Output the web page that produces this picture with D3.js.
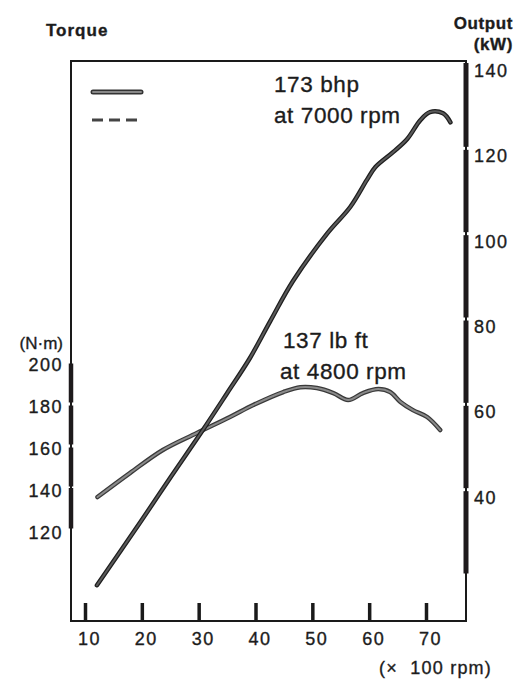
<!DOCTYPE html>
<html>
<head>
<meta charset="utf-8">
<script src="https://cdn.jsdelivr.net/npm/d3@7"></script>
<style>
  body { margin: 0; background: #fff; }
  svg { display: block; font-family: "Liberation Sans", Arial, sans-serif; }
  text { fill: #1c1c1c; stroke: #1c1c1c; stroke-width: 0.35px; }
</style>
</head>
<body>
<svg id="chart" width="529" height="680"></svg>
<script>
// values
const rpmTicks = [10, 20, 30, 40, 50, 60, 70];
const torqueTicks = [120, 140, 160, 180, 200];
const outputTicks = [40, 60, 80, 100, 120, 140];
const outputBar = [20, 40, 60, 80, 100, 120, 140];

const powerRpm = [12.1, 19.9, 25, 30.8, 35, 39, 42.6, 46.6, 52.6, 56.7, 59.6, 61.1, 64.2, 66.7, 69, 70.7, 73, 74.3];
const powerKw  = [17.6, 32.7, 42.8, 54.1, 62.6, 70.8, 79.5, 88.9, 100, 106.3, 112.6, 115.6, 119.1, 122.2, 126.6, 128.5, 128.2, 126.1];

const torqueRpm = [12.2, 17.9, 23.7, 29.7, 35.5, 39.6, 44.9, 47.9, 50.8, 53.7, 56.3, 58.9, 61.6, 63.7, 65.5, 67.7, 70.2, 72.5];
const torqueNm  = [135.7, 147.1, 158.1, 166.2, 173.8, 179.5, 185.7, 188, 187.6, 185.2, 181.9, 185.2, 187.1, 185.7, 181, 177.1, 173.8, 167.6];

const svg = d3.select("#chart");
const frame = { left: 71, top: 61, right: 466, bottom: 621 };

const x = d3.scaleLinear().domain([10, 70]).range([85, 426]);
const yT = d3.scaleLinear().domain([120, 200]).range([530, 362]);
const yP = d3.scaleLinear().domain([20, 140]).range([575, 63]);

// frame
svg.append("rect")
  .attr("x", frame.left).attr("y", frame.top)
  .attr("width", frame.right - frame.left).attr("height", frame.bottom - frame.top)
  .attr("fill", "none").attr("stroke", "#1a1a1a").attr("stroke-width", 2);

// thick segmented bars on the side axes
function bars(vals, scale, xPos, w) {
  for (let i = 0; i < vals.length - 1; i++) {
    const y0 = Math.min(scale(vals[i]), frame.bottom) - 1.5;
    const y1 = Math.max(scale(vals[i + 1]), frame.top) + (vals[i + 1] === 140 ? 0 : 1.5);
    svg.append("line")
      .attr("x1", xPos).attr("x2", xPos).attr("y1", y0).attr("y2", y1)
      .attr("stroke", "#1e1a1c").attr("stroke-width", w);
  }
}
bars(torqueTicks, yT, frame.left, 4.5);
bars(outputBar, yP, frame.right, 5);

// bottom axis: short upright ticks
const xAxis = d3.axisBottom(x).tickValues(rpmTicks).tickSize(-18).tickPadding(11);
const gx = svg.append("g").attr("transform", `translate(0,${frame.bottom})`).call(xAxis);
gx.select(".domain").remove();
gx.selectAll(".tick line").attr("stroke", "#1a1a1a").attr("stroke-width", 3.5);
gx.selectAll(".tick text")
  .attr("dx", 4).attr("font-size", 18).attr("letter-spacing", 1.5).attr("fill", "#1c1c1c");

// left axis labels
const gl = svg.append("g").attr("transform", `translate(${frame.left - 8},0)`)
  .call(d3.axisLeft(yT).tickValues(torqueTicks).tickSize(0).tickPadding(0));
gl.select(".domain").remove();
gl.selectAll(".tick text")
  .attr("dy", "0.45em").attr("font-size", 18).attr("letter-spacing", 1.5).attr("fill", "#1c1c1c");

// right axis labels
const gr = svg.append("g").attr("transform", `translate(${frame.right + 8},0)`)
  .call(d3.axisRight(yP).tickValues(outputTicks).tickSize(0).tickPadding(0));
gr.select(".domain").remove();
gr.selectAll(".tick text")
  .attr("dy", "0.75em").attr("font-size", 18).attr("letter-spacing", 1.5).attr("fill", "#1c1c1c");

// titles
svg.append("text").attr("x", 46).attr("y", 36).attr("font-size", 17)
  .attr("font-weight", "bold").attr("letter-spacing", 1).text("Torque");
svg.append("text").attr("x", 513).attr("y", 29).attr("font-size", 17).attr("text-anchor", "end")
  .attr("font-weight", "bold").attr("letter-spacing", 0.6).text("Output");
svg.append("text").attr("x", 513).attr("y", 50).attr("font-size", 17).attr("text-anchor", "end")
  .attr("font-weight", "bold").attr("letter-spacing", 0.6).text("(kW)");
svg.append("text").attr("x", 63).attr("y", 349).attr("font-size", 17).attr("text-anchor", "end")
  .text("(N·m)");
svg.append("text").attr("x", 492).attr("y", 674).attr("font-size", 18).attr("text-anchor", "end")
  .attr("letter-spacing", 1.2).attr("xml:space", "preserve").text("(×  100 rpm)");

// annotations
const note = (tx, ty, s) => svg.append("text").attr("x", tx).attr("y", ty)
  .attr("font-size", 22.5).attr("letter-spacing", 0.6).text(s);
note(274, 92, "173 bhp");
note(274, 123, "at 7000 rpm");
note(283, 348, "137 lb ft");
note(280, 379, "at 4800 rpm");

// curves, drawn as a dark outline with a grey core like the scan
function curve(xs, ys, yScale, outer, inner) {
  const pts = xs.map((d, i) => [x(d), yScale(ys[i])]);
  const line = d3.line().curve(d3.curveCatmullRom.alpha(0.5));
  svg.append("path").attr("d", line(pts)).attr("fill", "none")
    .attr("stroke", outer).attr("stroke-width", 4.5).attr("stroke-linecap", "round").attr("stroke-linejoin", "round");
  svg.append("path").attr("d", line(pts)).attr("fill", "none")
    .attr("stroke", inner).attr("stroke-width", 2).attr("stroke-linecap", "round").attr("stroke-linejoin", "round");
}
curve(torqueRpm, torqueNm, yT, "#3a3a3a", "#8a8a8a");
curve(powerRpm, powerKw, yP, "#1e1e1e", "#5a5a5a");

// legend
const lg = svg.append("g");
lg.append("line").attr("x1", 93).attr("x2", 141).attr("y1", 92).attr("y2", 92)
  .attr("stroke", "#333").attr("stroke-width", 5).attr("stroke-linecap", "round");
lg.append("line").attr("x1", 93).attr("x2", 141).attr("y1", 92).attr("y2", 92)
  .attr("stroke", "#888").attr("stroke-width", 2).attr("stroke-linecap", "round");
lg.append("line").attr("x1", 92).attr("x2", 141).attr("y1", 120).attr("y2", 120)
  .attr("stroke", "#444").attr("stroke-width", 3.2).attr("stroke-dasharray", "11 6");
</script>
</body>
</html>
